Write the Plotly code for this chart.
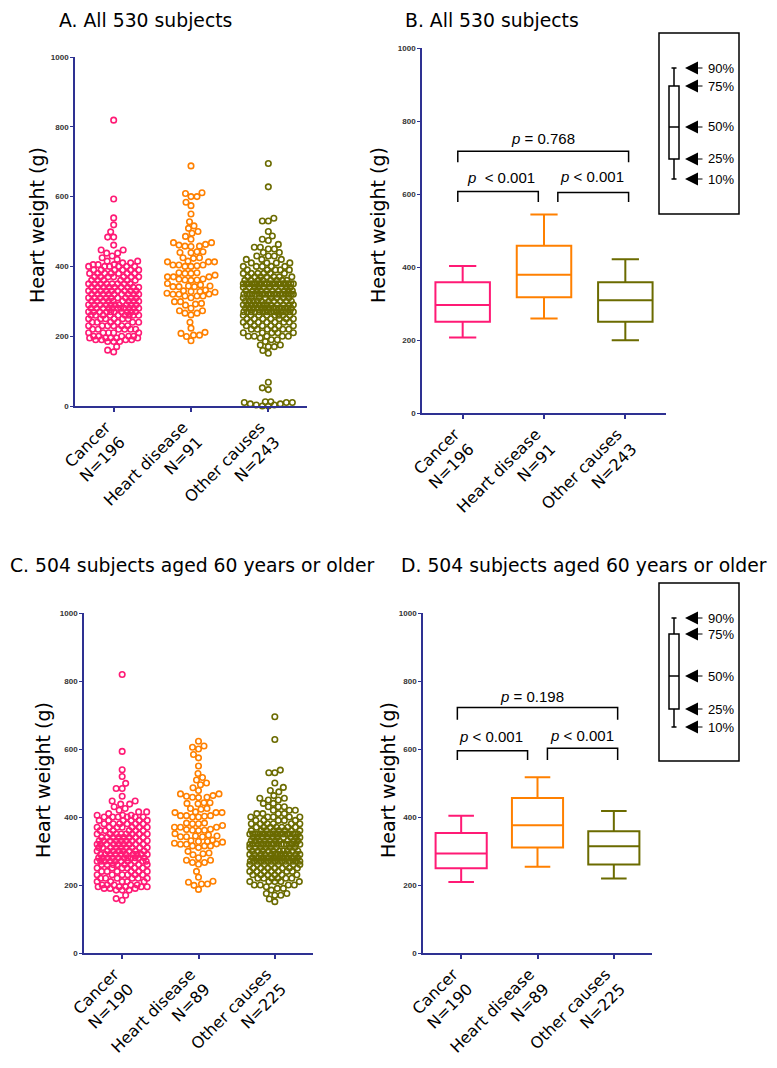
import numpy as np
import plotly.graph_objects as go

# the page body keeps its default 8 px margin, so the figure is drawn 8 px in
W, H = 769, 1052
OFF = 8

groups = ["Cancer", "Heart disease", "Other causes"]
colors = ["#ff1a75", "#ff8000", "#6b6b00"]
n_all = [196, 91, 243]
n_old = [190, 89, 225]

# heart weights (g)
cancer_wt = [155, 160, 170, 185, 190, 195, 200, 210, 220, 230, 240, 250,
             260, 270, 280, 290, 300, 310, 320, 330, 340, 350, 360,
             370, 380, 390, 400, 405, 410, 415, 420, 425, 430, 438, 447,
             461, 484, 499, 519, 539, 593, 819]
cancer_all_n = [1, 1, 1, 3, 4, 5, 5, 5, 6, 6, 6, 6,
                9, 10, 11, 10, 9, 9, 9, 9, 9, 8, 6,
                7, 7, 6, 6, 3, 2, 2, 1, 1, 1, 2, 2,
                1, 2, 1, 1, 1, 1, 1]
cancer_old_n = [1, 1, 1, 3, 3, 5, 5, 5, 6, 6, 6, 6,
                8, 10, 11, 10, 8, 9, 9, 9, 8, 8, 6,
                7, 6, 6, 6, 3, 1, 2, 1, 1, 1, 2, 2,
                1, 2, 1, 1, 1, 1, 1]

heart_all = [187, 199, 203, 203, 208, 211, 223, 240,
             261, 266, 266, 273, 273, 280, 289, 292, 294, 299, 299,
             310, 315, 315, 315, 320, 320, 321, 323, 326, 328, 328, 330, 332,
             342, 342, 342, 344, 344, 347, 351, 360, 361, 361, 363, 364,
             370, 370, 370, 375, 380, 380, 382, 382,
             400, 400, 402, 404, 404, 404, 413, 413, 413, 415, 423, 425, 425,
             439, 440, 442, 442, 457, 458, 458, 461, 463, 468, 468, 478, 486, 495,
             500, 509, 516, 528, 550, 574, 584, 600, 600, 609, 611, 688]
heart_old = [187, 199, 203, 203, 208, 211, 223, 240,
             261, 266, 266, 273, 273, 280, 289, 292, 294, 299,
             310, 315, 315, 315, 320, 320, 321, 323, 326, 328, 328, 330, 332,
             342, 342, 342, 344, 344, 347, 351, 360, 361, 361, 363, 364,
             370, 370, 370, 375, 380, 380, 382, 382,
             400, 400, 402, 404, 404, 404, 413, 413, 413, 415, 423, 425, 425,
             439, 440, 442, 442, 457, 458, 458, 461, 463, 468, 468, 478, 486, 495,
             500, 509, 516, 528, 550, 574, 584, 600, 605, 609, 623]

other_wt = [0, 3, 6, 10, 12, 47, 52, 68, 151, 159, 170, 175, 185, 190, 195,
            200, 210, 220, 230, 240, 250, 260, 270, 280, 290, 300, 310,
            320, 330, 340, 350, 360, 370, 380, 390, 400, 410,
            420, 430, 440, 450, 455, 463, 474, 478, 487, 500, 530, 538, 628, 695]
other_all_n = [2, 2, 2, 3, 2, 1, 1, 1, 1, 1, 2, 2, 1, 2, 1,
               5, 5, 6, 6, 7, 7, 8, 16, 14, 12, 10, 8,
               18, 10, 10, 20, 8, 7, 6, 5, 5, 4,
               3, 3, 2, 2, 2, 1, 1, 1, 1, 1, 2, 1, 1, 1]
other_old_n = [0, 0, 0, 0, 0, 0, 0, 0, 1, 1, 2, 2, 1, 2, 1,
               4, 5, 6, 6, 7, 7, 8, 15, 14, 12, 10, 8,
               17, 10, 10, 19, 8, 7, 6, 5, 5, 4,
               3, 3, 2, 2, 2, 1, 1, 1, 1, 1, 2, 1, 1, 1]

# box plot statistics (10th, 25th, 50th, 75th, 90th percentile)
all_p10 = [207, 259, 199]
all_q1 = [250, 317, 250]
all_med = [296, 379, 309]
all_q3 = [358, 458, 358]
all_p90 = [403, 544, 421]
old_p10 = [209, 254, 219]
old_q1 = [249, 310, 260]
old_med = [293, 376, 314]
old_q3 = [353, 456, 358]
old_p90 = [404, 517, 418]

p_all = ["<i>p</i>  < 0.001", "<i>p</i> < 0.001", "<i>p</i> = 0.768"]
p_old = ["<i>p</i> < 0.001", "<i>p</i> < 0.001", "<i>p</i> = 0.198"]

NAVY = "#2e3192"
TXT = "DejaVu Sans"
ARIAL = "Liberation Sans"


def px(x):
    return (x - OFF) / W


def py(y):
    return 1 - (y - OFF) / H


def swarm(values, px_per_g, px_per_cat, diam=6.0, half=25.0, step=0.5):
    v = np.asarray(values, float)
    ys = v * px_per_g
    cand = np.arange(-half, half + step / 2, step)
    cand = cand[np.argsort(np.abs(cand), kind="stable")]
    xs = np.zeros(len(v))
    placed_x, placed_y = [], []
    for i in np.argsort(v, kind="stable"):
        y = ys[i]
        x = 0.0
        if placed_x:
            ax_ = np.array(placed_x)
            ay_ = np.array(placed_y)
            m = np.abs(ay_ - y) < diam
            if m.any():
                d = np.hypot(cand[:, None] - ax_[m][None, :],
                             (ay_[m] - y)[None, :]).min(axis=1)
                ok = d >= diam
                x = cand[np.argmax(ok)] if ok.any() else cand[np.argmax(d)]
        xs[i] = x
        placed_x.append(x)
        placed_y.append(y)
    return xs / px_per_cat


fig = go.Figure()

panels_scatter = [
    ("", [np.repeat(cancer_wt, cancer_all_n), np.array(heart_all, float),
          np.repeat(other_wt, other_all_n)], 0.349, 77.3),
    ("3", [np.repeat(cancer_wt, cancer_old_n), np.array(heart_old, float),
           np.repeat(other_wt, other_old_n)], 0.340, 76.3),
]
for ax, data, ppg, ppc in panels_scatter:
    for i, vals in enumerate(data):
        off = swarm(vals, ppg, ppc)
        fig.add_trace(go.Scatter(
            x=i + off, y=vals, mode="markers", cliponaxis=False,
            marker=dict(symbol="circle-open", size=5.5, color=colors[i],
                        line=dict(width=1.6, color=colors[i])),
            showlegend=False, hoverinfo="y",
            xaxis="x" + ax, yaxis="y" + ax))

for ax, stats in [("2", (all_p10, all_q1, all_med, all_q3, all_p90)),
                  ("4", (old_p10, old_q1, old_med, old_q3, old_p90))]:
    p10, q1, med, q3, p90 = stats
    for i in range(3):
        fig.add_trace(go.Box(
            x=[i], q1=[q1[i]], median=[med[i]], q3=[q3[i]],
            lowerfence=[p10[i]], upperfence=[p90[i]],
            width=0.67, whiskerwidth=0.5, boxpoints=False,
            line=dict(color=colors[i], width=2),
            fillcolor="rgba(0,0,0,0)", showlegend=False,
            xaxis="x" + ax, yaxis="y" + ax))


def yaxis(domain, anchor):
    return dict(domain=domain, anchor=anchor, range=[0, 1000], automargin=False,
                tickvals=[0, 200, 400, 600, 800, 1000],
                showline=True, linecolor=NAVY, linewidth=1.5,
                ticks="outside", ticklen=3, tickcolor=NAVY, tickwidth=1,
                tickfont=dict(family=ARIAL, size=8, color="#333333", weight="bold"),
                showgrid=False, zeroline=False)


def xaxis(domain, anchor, ns):
    return dict(domain=domain, anchor=anchor, range=[-0.5, 2.5], automargin=False,
                tickvals=[0, 1, 2],
                ticktext=[f"{g}<br>N={n}" for g, n in zip(groups, ns)],
                tickangle=-45, ticklabelshift=-8,
                showline=True, linecolor=NAVY, linewidth=1.5,
                ticks="outside", ticklen=4, tickcolor=NAVY, tickwidth=1.5,
                tickfont=dict(family=TXT, size=16, color="black"),
                showgrid=False, zeroline=False)


layout = dict(
    template="none",
    width=W, height=H, margin=dict(l=0, r=0, t=0, b=0, pad=0),
    paper_bgcolor="white", plot_bgcolor="white", boxmode="overlay",
    xaxis=xaxis([px(75), px(307)], "y", n_all),
    yaxis=yaxis([py(406), py(57)], "x"),
    xaxis2=xaxis([px(422), px(666)], "y2", n_all),
    yaxis2=yaxis([py(413), py(48)], "x2"),
    xaxis3=xaxis([px(84), px(313)], "y3", n_old),
    yaxis3=yaxis([py(953), py(613)], "x3"),
    xaxis4=xaxis([px(423), px(652)], "y4", n_old),
    yaxis4=yaxis([py(953), py(613)], "x4"),
)
fig.update_layout(**layout)

annotations = []
shapes = []

# panel titles: (text, left x, y, vertical anchor)
titles = [("A. All 530 subjects", 57, 8, "top"), ("B. All 530 subjects", 403, 8, "top"),
          ("C. 504 subjects aged 60 years or older", 8, 565, "middle"),
          ("D. 504 subjects aged 60 years or older", 399, 565, "middle")]
for t, x, y, ya in titles:
    annotations.append(dict(text=t, x=px(x), y=py(y), xref="paper", yref="paper",
                            xanchor="left", yanchor=ya, showarrow=False,
                            font=dict(family=TXT, size=18.8, color="black")))

for x, y in [(37, 225), (378, 225), (43, 780), (388, 780)]:
    annotations.append(dict(text="Heart weight (g)", x=px(x), y=py(y),
                            xref="paper", yref="paper", textangle=-90,
                            xanchor="center", yanchor="middle", showarrow=False,
                            font=dict(family=TXT, size=19, color="black")))

# significance brackets: (x0, x1, top, leg bottom, text x, text y)
brackets = {
    "2": [(-0.06, 0.93, 607, 578, 0.47, 644), (1.17, 2.04, 604, 578, 1.59, 647),
          (-0.06, 2.04, 717, 687, 0.99, 753)],
    "4": [(-0.05, 0.87, 595, 568, 0.39, 638), (1.13, 2.05, 602, 568, 1.58, 641),
          (-0.05, 2.05, 722, 686, 0.93, 754)],
}
for ax, texts in [("2", p_all), ("4", p_old)]:
    for (x0, x1, yt, yb, tx, ty), txt in zip(brackets[ax], texts):
        shapes.append(dict(type="path", xref="x" + ax, yref="y" + ax,
                           path=f"M {x0},{yb} L {x0},{yt} L {x1},{yt} L {x1},{yb}",
                           line=dict(color="black", width=1.5)))
        annotations.append(dict(text=txt, x=tx, y=ty, xref="x" + ax, yref="y" + ax,
                                showarrow=False, xanchor="center", yanchor="middle",
                                font=dict(family=ARIAL, size=15, color="black")))

# key boxes explaining the box plot
keys = [(33, 214, [68, 86, 127, 159, 179]), (583, 761, [618, 634, 676, 709, 727])]
pct = ["90%", "75%", "50%", "25%", "10%"]
for top, bot, (w90, b75, m50, b25, w10) in keys:
    line = dict(color="black", width=1.5)
    shapes.append(dict(type="rect", xref="paper", yref="paper",
                       x0=px(659), x1=px(739), y0=py(bot), y1=py(top), line=line))
    shapes.append(dict(type="rect", xref="paper", yref="paper",
                       x0=px(669), x1=px(679), y0=py(b25), y1=py(b75), line=line))
    for (xa, ya, xb, yb) in [(669, m50, 679, m50), (674, w90, 674, b75),
                             (674, b25, 674, w10), (671.5, w90, 676.5, w90),
                             (671.5, w10, 676.5, w10)]:
        shapes.append(dict(type="line", xref="paper", yref="paper",
                           x0=px(xa), y0=py(ya), x1=px(xb), y1=py(yb), line=line))
    for lab, yv in zip(pct, [w90, b75, m50, b25, w10]):
        annotations.append(dict(text="", x=px(685), y=py(yv), xref="paper", yref="paper",
                                ax=19, ay=0, showarrow=True, arrowhead=2,
                                arrowsize=2.6, arrowwidth=1, arrowcolor="black"))
        annotations.append(dict(text=lab, x=px(706), y=py(yv), xref="paper", yref="paper",
                                xanchor="left", yanchor="middle", showarrow=False,
                                font=dict(family=ARIAL, size=13, color="black")))

fig.update_layout(annotations=annotations, shapes=shapes)
fig.write_html("out.html")
